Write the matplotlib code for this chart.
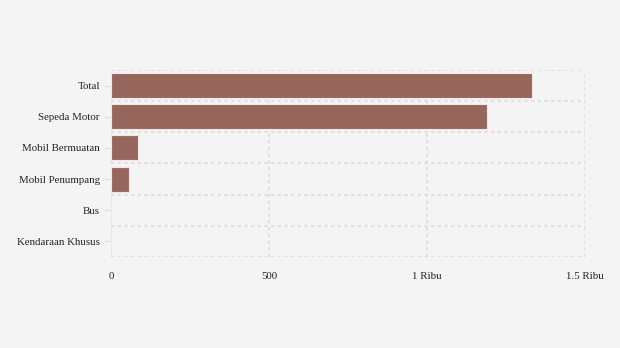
import matplotlib.pyplot as plt

categories = ["Total", "Sepeda Motor", "Mobil Bermuatan", "Mobil Penumpang", "Bus", "Kendaraan Khusus"]
values = [1332, 1190, 85, 57, 0, 0]
xticks = [0, 500, 1000, 1500]
xtick_labels = ["0", "500", "1 Ribu", "1.5 Ribu"]

plt.rcParams['font.family'] = ['Liberation Serif', 'DejaVu Serif']

fig = plt.figure(figsize=(6.2, 3.48), dpi=100, facecolor='#f4f4f4')
ax = fig.add_axes([0.179, 0.2615, 0.7645, 0.5375], facecolor='#f4f4f4')

pos = list(range(len(categories)))
ax.barh(pos, values, height=0.8, color='#96665d', edgecolor='#f2e6e4', linewidth=0.8, zorder=3)

ax.set_ylim(len(categories) - 0.5, -0.5)
ax.set_xlim(0, 1500)
ax.set_yticks(pos)
ax.set_yticklabels(categories, fontsize=7.8, color='#222222')
ax.set_yticks([p - 0.5 for p in pos] + [len(categories) - 0.5], minor=True)
ax.set_xticks(xticks)
ax.set_xticklabels(xtick_labels, fontsize=7.8, color='#222222')

ax.tick_params(axis='y', which='major', length=5, color='#dddddd', pad=3)
ax.tick_params(axis='y', which='minor', length=0)
ax.tick_params(axis='x', length=0, pad=11)

ax.grid(True, axis='x', which='major', color='#dddddd', linestyle=(0, (2, 2)), linewidth=1.2, zorder=0)
ax.grid(True, axis='y', which='minor', color='#dddddd', linestyle=(0, (2, 2)), linewidth=1.2, zorder=0)
for s in ax.spines.values():
    s.set_visible(False)

fig.savefig("out.png", dpi=100, facecolor=fig.get_facecolor())
